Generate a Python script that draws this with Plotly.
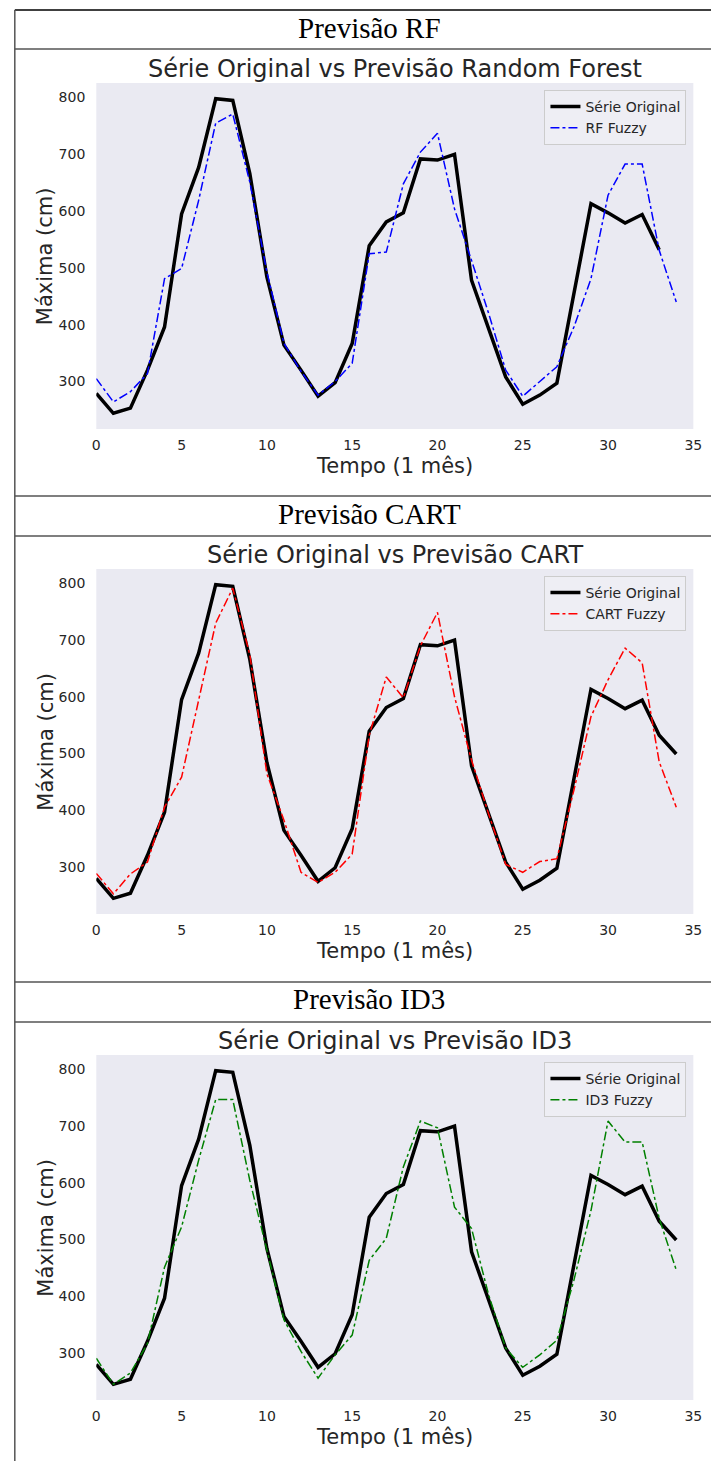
import plotly.graph_objects as go

# Monthly maximum river level (cm) and the fuzzy-tree forecasts
tempo = list(range(35))
serie_original = [279, 244, 253, 320, 396, 595, 677, 798, 795, 666,
                  484, 364, 320, 274, 298, 367, 539, 581, 597, 692,
                  690, 700, 478, 393, 308, 260, 276, 297, 455, 613,
                  597, 579, 594, 532, 499]
rf_fuzzy = [305, 264, 282, 314, 481, 499, 619, 755, 771, 651,
            493, 367, 318, 276, 300, 332, 525, 528, 648, 704,
            737, 604, 513, 420, 320, 274, 300, 326, 396, 481,
            628, 683, 683, 531, 440]
cart_fuzzy = [288, 252, 287, 308, 405, 458, 594, 730, 792, 674,
              464, 382, 290, 272, 290, 322, 532, 635, 598, 690,
              749, 600, 488, 393, 304, 290, 309, 314, 435, 565,
              630, 686, 660, 485, 405]
id3_fuzzy = [290, 244, 264, 316, 451, 522, 640, 747, 747, 604,
             481, 358, 302, 255, 296, 331, 463, 502, 628, 709,
             697, 557, 519, 402, 308, 274, 296, 322, 428, 551,
             709, 672, 672, 537, 446]

x_ticks = [0, 5, 10, 15, 20, 25, 30, 35]
y_ticks = [300, 400, 500, 600, 700, 800]

W, H = 720, 1461
TEXT = "#262626"
BG = "#EAEAF2"
FONT = "DejaVu Sans"


def px(x):
    return x / W


def py(y):
    return 1 - y / H


panels = [
    dict(header="Previsão RF", title="Série Original vs Previsão Random Forest",
         pred=rf_fuzzy, name="RF Fuzzy", color="blue", n_orig=34,
         top=83, bottom=429, head_y=28, title_y=69, lines=(10, 49)),
    dict(header="Previsão CART", title="Série Original vs Previsão CART",
         pred=cart_fuzzy, name="CART Fuzzy", color="red", n_orig=35,
         top=569, bottom=914, head_y=514, title_y=555, lines=(496, 536)),
    dict(header="Previsão ID3", title="Série Original vs Previsão ID3",
         pred=id3_fuzzy, name="ID3 Fuzzy", color="green", n_orig=35,
         top=1055, bottom=1400, head_y=999, title_y=1041, lines=(982, 1022)),
]

fig = go.Figure()
annotations = []
shapes = []
left, right = 94, 702

for i, p in enumerate(panels, start=1):
    sfx = "" if i == 1 else str(i)
    xa, ya = "x" + sfx, "y" + sfx
    leg = "legend" + sfx
    orig = serie_original[:p["n_orig"]]
    fig.add_trace(go.Scatter(x=tempo[:p["n_orig"]], y=orig, mode="lines",
                             name="Série Original", xaxis=xa, yaxis=ya, legend=leg,
                             line=dict(color="black", width=3.5)))
    fig.add_trace(go.Scatter(x=tempo[:len(p["pred"])], y=p["pred"], mode="lines",
                             name=p["name"], xaxis=xa, yaxis=ya, legend=leg,
                             line=dict(color=p["color"], width=1.5, dash="dashdot")))

    lo = min(min(orig), min(p["pred"]))
    hi = max(max(orig), max(p["pred"]))
    pad = 0.05 * (hi - lo)

    fig.update_layout({
        "xaxis" + sfx: dict(domain=[px(left), px(right)], anchor=ya, range=[0, 35],
                            tickvals=x_ticks, showgrid=False, zeroline=False,
                            showline=False, ticks="", ticklabelstandoff=6,
                            tickfont=dict(size=14, color=TEXT)),
        "yaxis" + sfx: dict(domain=[py(p["bottom"]), py(p["top"])], anchor=xa,
                            range=[lo - pad, hi + pad], tickvals=y_ticks,
                            showgrid=False, zeroline=False, showline=False, ticks="",
                            ticklabelstandoff=10,
                            tickfont=dict(size=14, color=TEXT)),
        leg: dict(x=px(695), y=py(p["top"] + 7), xanchor="right", yanchor="top",
                  bgcolor="#EEEEF4", bordercolor="#CCCCCC", borderwidth=1,
                  font=dict(family=FONT, size=14, color=TEXT),
                  tracegroupgap=0, itemwidth=30),
    })

    # header row of the table
    annotations.append(dict(text=p["header"], x=px(372), y=py(p["head_y"]),
                            xref="paper", yref="paper", showarrow=False,
                            xanchor="center", yanchor="middle",
                            font=dict(family="Liberation Serif", size=29, color="black")))
    # chart title
    annotations.append(dict(text=p["title"], x=px(398), y=py(p["title_y"]),
                            xref="paper", yref="paper", showarrow=False,
                            xanchor="center", yanchor="middle",
                            font=dict(family=FONT, size=24, color=TEXT)))
    # axis titles
    annotations.append(dict(text="Tempo (1 mês)", x=px(398), y=py(p["bottom"] + 37),
                            xref="paper", yref="paper", showarrow=False,
                            xanchor="center", yanchor="middle",
                            font=dict(family=FONT, size=21, color=TEXT)))
    annotations.append(dict(text="Máxima (cm)", x=px(42), y=py((p["top"] + p["bottom"]) / 2),
                            xref="paper", yref="paper", showarrow=False, textangle=-90,
                            xanchor="center", yanchor="middle",
                            font=dict(family=FONT, size=21, color=TEXT)))
    # table rules around the header
    for j, yl in enumerate(p["lines"]):
        col = "black" if (i == 1 and j == 0) else "#555555"
        shapes.append(dict(type="line", xref="paper", yref="paper",
                           x0=px(11), x1=1, y0=py(yl), y1=py(yl),
                           line=dict(color=col, width=1.5)))

shapes.append(dict(type="line", xref="paper", yref="paper",
                   x0=px(11), x1=px(11), y0=py(10), y1=0,
                   line=dict(color="#555555", width=1.5)))

fig.update_layout(width=W, height=H, margin=dict(l=0, r=0, t=0, b=0),
                  paper_bgcolor="white", plot_bgcolor=BG,
                  font=dict(family=FONT, color=TEXT),
                  annotations=annotations, shapes=shapes, showlegend=True)

fig.write_html("out.html")
